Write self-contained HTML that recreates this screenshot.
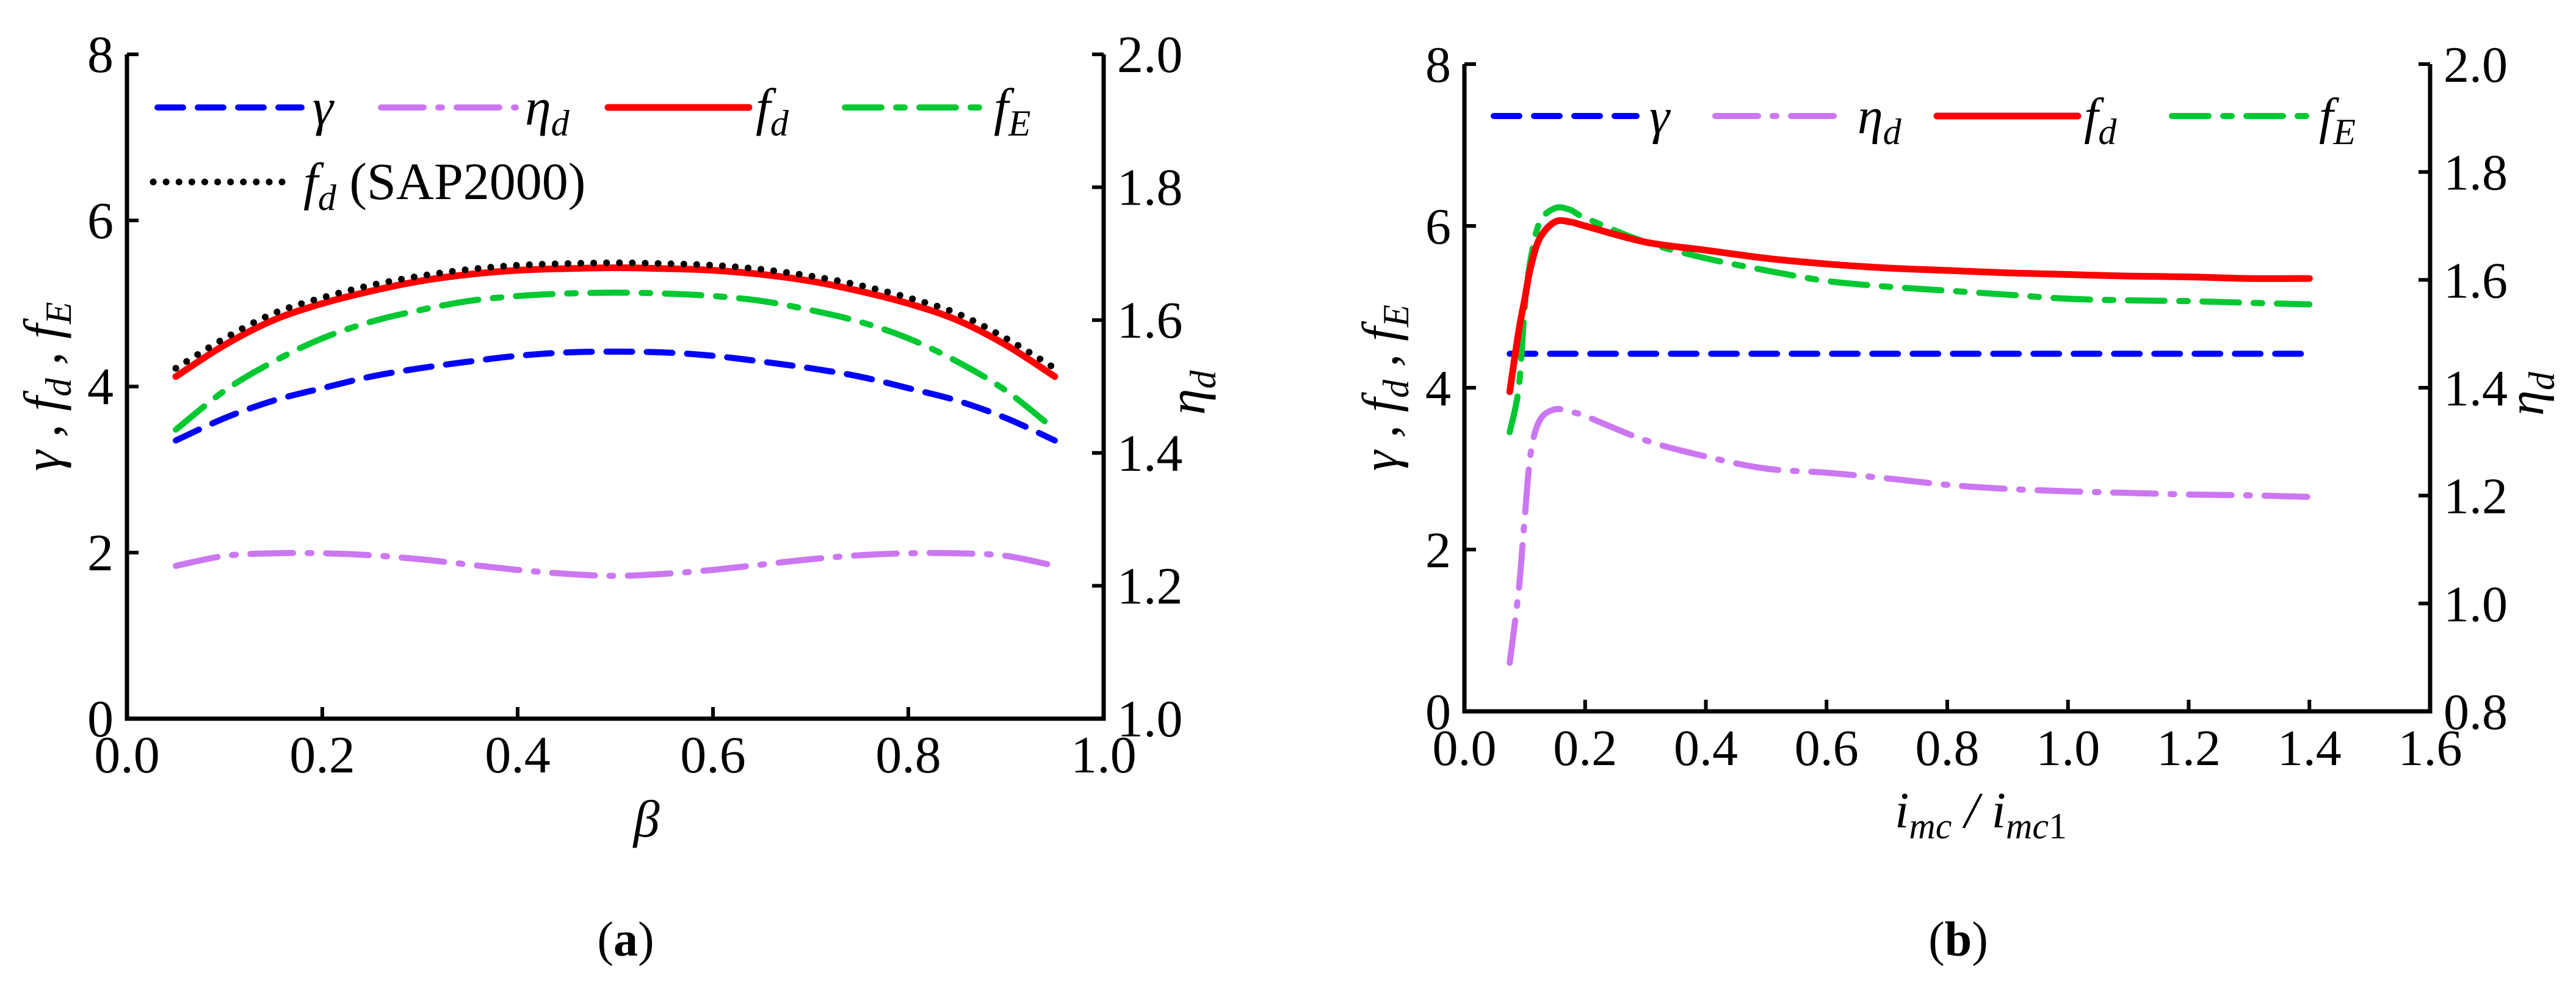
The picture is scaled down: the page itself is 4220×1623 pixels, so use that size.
<!DOCTYPE html>
<html><head><meta charset="utf-8"><style>
html,body{margin:0;padding:0;background:#fff}
svg{display:block}
text{font-family:"Liberation Serif",serif;fill:#000}
</style></head><body>
<svg id="fig" width="4220" height="1623" viewBox="0 0 4220 1623" xmlns="http://www.w3.org/2000/svg">
<g id="pa"></g>
<g id="pb"></g>
</svg>
<script>
// Panel (a) data
const aBeta = [0.05,0.1,0.15,0.2,0.25,0.3,0.35,0.4,0.45,0.5,0.55,0.6,0.65,0.7,0.75,0.8,0.85,0.9,0.95];
const aGamma = [3.35,3.62,3.83,3.98,4.12,4.22,4.3,4.37,4.41,4.42,4.41,4.37,4.3,4.22,4.12,3.98,3.83,3.62,3.35];
const aEta = [1.23,1.245,1.249,1.249,1.246,1.24,1.232,1.224,1.218,1.215,1.218,1.224,1.232,1.24,1.246,1.249,1.249,1.245,1.23];
const aFd = [4.12,4.5,4.8,5.0,5.15,5.27,5.35,5.4,5.42,5.43,5.42,5.4,5.35,5.27,5.15,5.0,4.8,4.5,4.12];
const aFE = [3.48,3.95,4.3,4.58,4.78,4.92,5.03,5.09,5.12,5.13,5.12,5.09,5.03,4.92,4.78,4.58,4.3,3.95,3.48];
const aSap = [4.22,4.58,4.88,5.07,5.22,5.33,5.41,5.46,5.48,5.49,5.48,5.46,5.41,5.33,5.22,5.07,4.88,4.58,4.22];
const aXTicks = ["0.0","0.2","0.4","0.6","0.8","1.0"];
const aYTicks = ["0","2","4","6","8"];
const aY2Ticks = ["1.0","1.2","1.4","1.6","1.8","2.0"];
// Panel (b) data
const bX = [0.075,0.09,0.1,0.11,0.125,0.15,0.175,0.2,0.3,0.4,0.5,0.6,0.7,0.8,0.9,1.0,1.1,1.2,1.3,1.4];
const bGamma = [4.42,4.42,4.42,4.42,4.42,4.42,4.42,4.42,4.42,4.42,4.42,4.42,4.42,4.42,4.42,4.42,4.42,4.42,4.42,4.42];
const bEta = [0.89,1.025,1.16,1.28,1.34,1.36,1.355,1.3475,1.3025,1.2725,1.25,1.2425,1.232,1.22,1.2125,1.208,1.205,1.202,1.2005,1.1975];
const bFd = [3.95,4.7,5.1,5.5,5.85,6.05,6.05,6.0,5.8,5.7,5.6,5.53,5.48,5.45,5.42,5.4,5.38,5.37,5.35,5.35];
const bFE = [3.45,4.0,5.0,5.6,6.05,6.22,6.2,6.1,5.8,5.6,5.45,5.32,5.25,5.2,5.15,5.1,5.08,5.07,5.05,5.03];
const bXTicks = ["0.0","0.2","0.4","0.6","0.8","1.0","1.2","1.4","1.6"];
const bYTicks = ["0","2","4","6","8"];
const bY2Ticks = ["0.8","1.0","1.2","1.4","1.6","1.8","2.0"];

const NS="http://www.w3.org/2000/svg";
function mk(parent,tag,attrs,txt){const e=document.createElementNS(NS,tag);for(const k in attrs)e.setAttribute(k,attrs[k]);if(txt!==undefined)e.textContent=txt;parent.appendChild(e);return e;}
const STY={
 gamma:{stroke:"#0000ff",w:10,dash:"42 24",cap:"round"},
 eta:{stroke:"#cc77f2",w:10,dash:"70 24 6 24",cap:"round"},
 fd:{stroke:"#ff0000",w:11,dash:"",cap:"round"},
 fE:{stroke:"#00c832",w:10,dash:"60 24 14 24",cap:"round"},
 sap:{stroke:"#000000",w:11,dash:"0.1 21",cap:"round"}
};
function smoothPath(pts){
 let d="M"+pts[0][0].toFixed(1)+","+pts[0][1].toFixed(1);
 for(let i=0;i<pts.length-1;i++){
  const p0=pts[Math.max(0,i-1)],p1=pts[i],p2=pts[i+1],p3=pts[Math.min(pts.length-1,i+2)];
  const c1=[p1[0]+(p2[0]-p0[0])/6,p1[1]+(p2[1]-p0[1])/6],c2=[p2[0]-(p3[0]-p1[0])/6,p2[1]-(p3[1]-p1[1])/6];
  d+="C"+c1.map(v=>v.toFixed(1)).join(",")+" "+c2.map(v=>v.toFixed(1)).join(",")+" "+p2[0].toFixed(1)+","+p2[1].toFixed(1);
 }
 return d;
}
function panel(g,cfg){
 const {L,R,T,B,xmax,ymax,y2min,y2max}=cfg;
 const sx=v=>L+(R-L)*v/xmax, sy=v=>B-(B-T)*v/ymax, sy2=v=>B-(B-T)*(v-y2min)/(y2max-y2min);
 cfg.series.forEach(s=>{
  const st=STY[s.key];
  const pts=cfg.x.map((xv,i)=>[sx(xv),s.right?sy2(s.vals[i]):sy(s.vals[i])]);
  const p=mk(g,"path",{d:smoothPath(pts),fill:"none",stroke:st.stroke,"stroke-width":st.w,"stroke-dasharray":st.dash,"stroke-linecap":st.cap,"stroke-linejoin":"round"});
  
  
 });
 const ax=mk(g,"path",{d:`M${L},${T}V${B}H${R}V${T}`,fill:"none",stroke:"#000","stroke-width":7});
 
 
 cfg.xt.forEach((t,i)=>{
  const x=sx(i*xmax/(cfg.xt.length-1));
  if(i>0&&i<cfg.xt.length-1) mk(g,"line",{x1:x,x2:x,y1:B,y2:B-19,stroke:"#000","stroke-width":6});
  const tx=mk(g,"text",{x:x,y:B+88,"text-anchor":"middle","font-size":cfg.fs},t);
  
  
 });
 cfg.yt.forEach((t,i)=>{
  const y=sy(i*ymax/(cfg.yt.length-1));
  mk(g,"line",{x1:L,x2:L+19,y1:y,y2:y,stroke:"#000","stroke-width":6});
  const tx=mk(g,"text",{x:L-22,y:y+29,"text-anchor":"end","font-size":cfg.fs},t);
  
  
 });
 cfg.y2t.forEach((t,i)=>{
  const v=y2min+i*(y2max-y2min)/(cfg.y2t.length-1), y=sy2(v);
  mk(g,"line",{x1:R,x2:R-19,y1:y,y2:y,stroke:"#000","stroke-width":6});
  const tx=mk(g,"text",{x:R+22,y:y+29,"text-anchor":"start","font-size":cfg.fs},t);
  
  
 });
 const yl=mk(g,"text",{transform:`translate(${L-110},${(T+B)/2}) rotate(-90)`,"text-anchor":"middle","font-size":cfg.fs,"font-style":"italic"});
 yl.innerHTML='γ  ,  f<tspan font-size="60" dy="18">d</tspan><tspan dy="-18">  ,  f</tspan><tspan font-size="60" dy="18">E</tspan>';
 
 
 const y2l=mk(g,"text",{transform:`translate(${R+cfg.y2off},${(T+B)/2+10}) rotate(-90)`,"text-anchor":"middle","font-size":cfg.fs,"font-style":"italic"});
 y2l.innerHTML='η<tspan font-size="60" dy="18">d</tspan>';
 
 
 const xl=mk(g,"text",{x:cfg.xlx,y:cfg.xly,"text-anchor":"middle","font-size":cfg.fs,"font-style":"italic"});
 xl.innerHTML=cfg.xlab;
 
 
 const cap=mk(g,"text",{x:cfg.capx,y:1565,"text-anchor":"middle","font-size":80});
 cap.innerHTML='(<tspan font-weight="bold">'+cfg.cap+'</tspan>)';
 
 
 cfg.legend.forEach(l=>{
  const st=STY[l.key];
  const lg=mk(g,"g",{});
  
  
  mk(lg,"line",{x1:l.x1,x2:l.x2,y1:l.y,y2:l.y,stroke:st.stroke,"stroke-width":st.w,"stroke-dasharray":st.dash,"stroke-linecap":st.cap});
  const t=mk(lg,"text",{x:l.tx,y:l.y+28,"font-size":cfg.fs,"font-style":"italic"});
  t.innerHTML=l.label;
 });
}
const dn='<tspan font-size="60" dy="18">d</tspan>', En='<tspan font-size="60" dy="18">E</tspan>';
panel(document.getElementById("pa"),{L:208,R:1808,T:89,B:1177,xmax:1,ymax:8,y2min:1,y2max:2,fs:86,y2off:165,
 x:aBeta,xt:aXTicks,yt:aYTicks,y2t:aY2Ticks,xlab:"β",xlx:1059,xly:1370,cap:"a",capx:1025,
 series:[{key:"eta",vals:aEta,right:true,name:"eta-d-line"},{key:"gamma",vals:aGamma,name:"gamma-line"},{key:"fE",vals:aFE,name:"fE-line"},{key:"fd",vals:aFd,name:"fd-line"},{key:"sap",vals:aSap,name:"fd-sap2000-line"}],
 legend:[{key:"gamma",x1:258,x2:494,y:176,tx:512,label:"γ"},{key:"eta",x1:624,x2:845,y:176,tx:860,label:"η"+dn},
  {key:"fd",x1:996,x2:1227,y:176,tx:1238,label:"f"+dn},{key:"fE",x1:1384,x2:1608,y:176,tx:1628,label:"f"+En},
  {key:"sap",x1:251,x2:480,y:298,tx:497,label:'f'+dn+'<tspan dy="-18" font-style="normal"> (SAP2000)</tspan>'}]});
panel(document.getElementById("pb"),{L:2399,R:3981,T:105,B:1165,xmax:1.6,ymax:8,y2min:0.8,y2max:2,fs:84,y2off:185,
 x:bX,xt:bXTicks,yt:bYTicks,y2t:bY2Ticks,xlab:'i<tspan font-size="60" dy="18">mc</tspan><tspan dy="-18"> / i</tspan><tspan font-size="60" dy="18">mc<tspan font-style="normal">1</tspan></tspan>',xlx:3245,xly:1355,cap:"b",capx:3208,
 series:[{key:"eta",vals:bEta,right:true,name:"eta-d-line"},{key:"gamma",vals:bGamma,name:"gamma-line"},{key:"fE",vals:bFE,name:"fE-line"},{key:"fd",vals:bFd,name:"fd-line"}],
 legend:[{key:"gamma",x1:2447,x2:2681,y:190,tx:2702,label:"γ"},{key:"eta",x1:2810,x2:3027,y:190,tx:3043,label:"η"+dn},
  {key:"fd",x1:3173,x2:3404,y:190,tx:3414,label:"f"+dn},{key:"fE",x1:3558,x2:3787,y:190,tx:3799,label:"f"+En}]});
</script>
</body></html>
